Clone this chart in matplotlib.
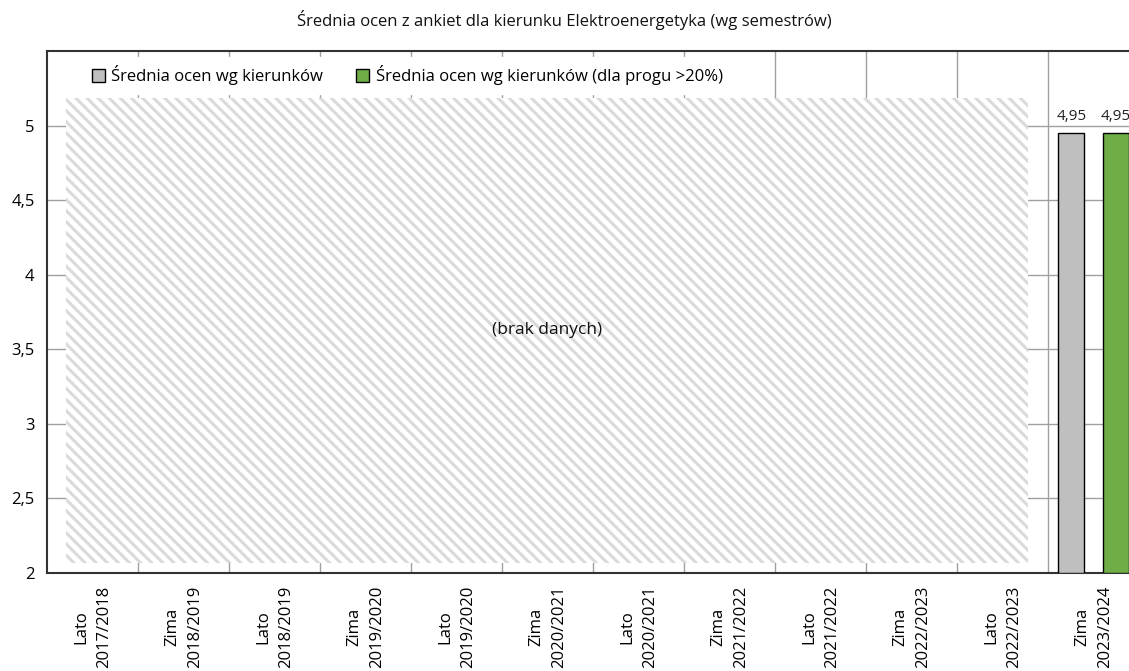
import matplotlib
matplotlib.use("Agg")
import matplotlib.pyplot as plt
from matplotlib.patches import Rectangle
import numpy as np

plt.rcParams['font.family'] = ['Open Sans', 'DejaVu Sans']
plt.rcParams['hatch.linewidth'] = 2.2

title = "Średnia ocen z ankiet dla kierunku Elektroenergetyka (wg semestrów)"
categories = ["Lato\n2017/2018", "Zima\n2018/2019", "Lato\n2018/2019", "Zima\n2019/2020",
              "Lato\n2019/2020", "Zima\n2020/2021", "Lato\n2020/2021", "Zima\n2021/2022",
              "Lato\n2021/2022", "Zima\n2022/2023", "Lato\n2022/2023", "Zima\n2023/2024"]
series_names = ["Średnia ocen wg kierunków", "Średnia ocen wg kierunków (dla progu >20%)"]
series_colors = ["#bfbfbf", "#70ad47"]
# only the last semester has data
avg_all = [None] * 11 + [4.95]
avg_thr = [None] * 11 + [4.95]
no_data_text = "(brak danych)"
yticks = [2, 2.5, 3, 3.5, 4, 4.5, 5]

fig = plt.figure(figsize=(11.29, 6.71), dpi=100)
ax = fig.add_axes([47/1129, (671-573)/671, 1 - 47/1129, (573-51)/671])

x = np.arange(len(categories))
width = 0.28
offsets = [-0.245, 0.245]
for vals, off, col, name in zip([avg_all, avg_thr], offsets, series_colors, series_names):
    xs = [xi + off for xi, v in zip(x, vals) if v is not None]
    vs = [v for v in vals if v is not None]
    bars = ax.bar(xs, [v - 2 for v in vs], bottom=2, width=width, color=col,
                  edgecolor='black', linewidth=1.0, label=name, zorder=3)
    for b, v in zip(bars, vs):
        ax.text(b.get_x() + b.get_width()/2, v + 0.06, f"{v:.2f}".replace('.', ','),
                ha='center', va='bottom', fontsize=11, color='#222222', zorder=4)

# no-data hatched region over the empty semesters
rect = Rectangle((-0.29, 2.07), 10.57, 3.12, facecolor='white', edgecolor='#dadada',
                 hatch='\\\\\\', linewidth=0, zorder=2)
ax.add_patch(rect)
ax.text(-0.29 + 10.57/2, 2.07 + 3.12/2, no_data_text, ha='center', va='center',
        fontsize=12.5, color='#111111', zorder=3)

ax.set_xlim(-0.5, 11.39)
ax.set_ylim(2, 5.503)
ax.set_xticks(x)
ax.set_xticklabels(categories, rotation=90, fontsize=12, linespacing=1.55)
ax.set_xticks(np.arange(len(categories) - 1) + 0.5, minor=True)
ax.set_yticks(yticks)
ax.set_yticklabels([str(t).replace('.', ',') if t % 1 else str(int(t)) for t in yticks], fontsize=12)
ax.tick_params(axis='x', which='both', length=0, pad=9)
ax.tick_params(axis='y', length=0, pad=9)
ax.grid(axis='y', which='major', color='#a0a0a0', linewidth=1.0, zorder=1)
ax.grid(axis='x', which='minor', color='#a0a0a0', linewidth=1.0, zorder=1)
ax.grid(axis='x', which='major', visible=False)
ax.set_axisbelow(True)

for s in ['left', 'bottom', 'top']:
    ax.spines[s].set_color('#333333')
    ax.spines[s].set_linewidth(1.5)
ax.spines['right'].set_visible(False)

leg = ax.legend(loc='upper left', bbox_to_anchor=(0.034, 0.9885), ncol=2, frameon=True,
                fontsize=12, handlelength=0.75, handleheight=0.75, handletextpad=0.4,
                columnspacing=2.0, borderaxespad=0.0, borderpad=0.5)
leg.get_frame().set_facecolor('white')
leg.get_frame().set_edgecolor('white')
leg.get_frame().set_alpha(1.0)
leg.get_frame().set_boxstyle('square', pad=0.0)
leg.set_zorder(5)

fig.text(0.5, 1 - 20/671, title, ha='center', va='center', fontsize=12, color='#111111')

fig.savefig("out.png", dpi=100)
